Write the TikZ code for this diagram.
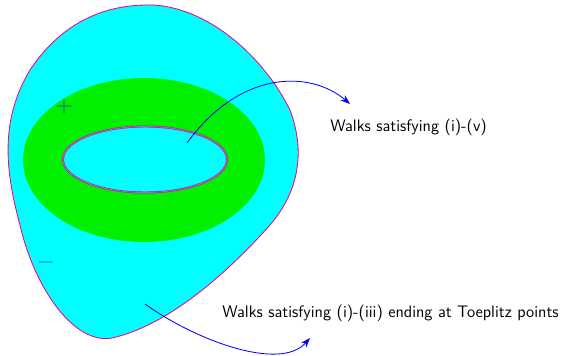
\documentclass[tikz,border=0pt]{standalone}
\usepackage{tikz}
\usetikzlibrary{arrows.meta,positioning}
\definecolor{regioncyan}{RGB}{0,255,255}
\definecolor{ringgreen}{RGB}{0,240,0}
\definecolor{walkblue}{RGB}{0,0,255}

\begin{document}
\begin{tikzpicture}[x=0.72pt,y=-0.72pt,
    walkarrow/.style={-{Stealth[length=7pt,width=5pt]},walkblue,semithick},
    signlabel/.style={font=\Large\boldmath,walkblue,opacity=0.5,inner sep=0pt},
    walklabel/.style={font=\sffamily\large,anchor=west,inner sep=0pt}]
    \useasboundingbox (0,0) rectangle (575,356);

    % Outer region
    \filldraw[fill=regioncyan,draw=magenta,semithick]
      (145,5) .. controls (200,3) and (260,50) .. (290,110)
      .. controls (305,150) and (300,190) .. (270,225)
      .. controls (230,270) and (170,325) .. (112,338)
      .. controls (75,345) and (35,290) .. (20,225)
      .. controls (5,170) and (0,120) .. (30,70)
      .. controls (60,25) and (100,6) .. (145,5) -- cycle;

    % Ring
    \fill[ringgreen] (144,160) ellipse [x radius=121,y radius=82];
    \filldraw[fill=regioncyan,draw=magenta,double=magenta!40!regioncyan,double distance=0.6pt]
      (145,159.5) ellipse [x radius=82,y radius=33];

    % Signs
    \node[signlabel] (plus) at (64,107) {$+$};
    \node[signlabel] (minus) at (46,262) {$-$};

    % Labels
    \node[walklabel] (inner) at (330,127) {Walks satisfying (i)-(v)};
    \node[walklabel] (outer) at (222,313) {Walks satisfying (i)-(iii) ending at Toeplitz points};

    % Arrows
    \coordinate (ringpt) at (187,143);
    \coordinate (ringtip) at (350,104);
    \coordinate (blobpt) at (145,304);
    \coordinate (blobtip) at (310,338);
    \draw[walkarrow] (ringpt) .. controls (240,70) and (310,70) .. (ringtip);
    \draw[walkarrow] (blobpt) .. controls (195,340) and (280,372) .. (blobtip);
  \end{tikzpicture}
\end{document}
